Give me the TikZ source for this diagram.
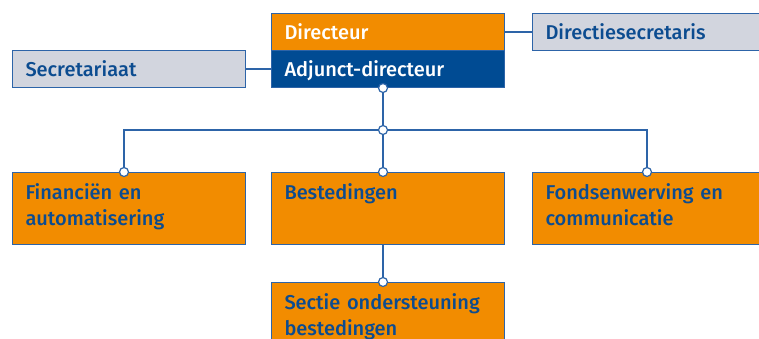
\documentclass[tikz,border=0pt]{standalone}
\usepackage{fontspec}
\setmainfont{Fira Sans}[UprightFont=* Medium]
\usepackage{xcolor}

\definecolor{orgOrange}{HTML}{F28C00}
\definecolor{orgBlue}{HTML}{004B93}
\definecolor{orgGrey}{HTML}{D2D5DE}
\definecolor{orgLine}{HTML}{2D64A8}
\definecolor{orgText}{HTML}{0C4C90}

\tikzset{
  unit/.style={draw=orgLine, line width=1pt, anchor=north west,
    minimum width=233pt, inner xsep=13pt, inner ysep=0pt, text width=207pt,
    align=left, font=\fontsize{20}{26}\selectfont, text=orgText},
  headbox/.style={unit, minimum height=37pt, text height=15pt, text depth=0pt},
  deptbox/.style={unit, fill=orgOrange, minimum height=72pt},
  link/.style={orgLine, line width=1.2pt},
  joint/.style={fill=white, draw=orgLine, line width=1.2pt}
}

\begin{document}
\begin{tikzpicture}[x=1pt,y=-1pt]
        \clip (0,0) rectangle (759,338);

        % Draw the management boxes
        \node[headbox, fill=orgOrange, text=white] (dir) at (271,13) {Directeur};
        \node[headbox, fill=orgBlue, text=white, text height=14pt] (adj) at (271,50) {Adjunct-directeur};
        \node[headbox, fill=orgGrey, text height=14pt] (sec) at (12,50) {Secretariaat};
        \node[headbox, fill=orgGrey] (dsec) at (532,13) {Directiesecretaris};

        % Draw the departments
        \node[deptbox] (fin) at (12,172) {Financiën en\\automatisering\strut};
        \node[deptbox] (best) at (271,172) {Bestedingen\\\strut};
        \node[deptbox] (fonds) at (532,172) {Fondsenwerving en\\communicatie\strut};
        \node[deptbox] (sectie) at (271,282) {Sectie ondersteuning\\bestedingen\strut};

        % Joints
        \coordinate (adjS) at (383,88);
        \coordinate (hub) at (383,130);
        \coordinate (finN) at (124,172);
        \coordinate (bestN) at (383,172);
        \coordinate (fondsN) at (647,172);
        \coordinate (bestS) at (383,244);
        \coordinate (sectieN) at (383,282);

        % Draw the connectors
        \draw[link] (dir.east) -- (dsec.west);
        \draw[link] (sec.east) -- (adj.west);
        \draw[link] (adjS) -- (hub);
        \draw[link] (finN) |- (hub) -| (fondsN);
        \draw[link] (hub) -- (bestN);
        \draw[link] (bestS) -- (sectieN);

        % Draw the joint circles
        \foreach \p in {adjS,hub,finN,bestN,fondsN,sectieN}
          \filldraw[joint] (\p) circle (4.5pt);
\end{tikzpicture}
\end{document}
